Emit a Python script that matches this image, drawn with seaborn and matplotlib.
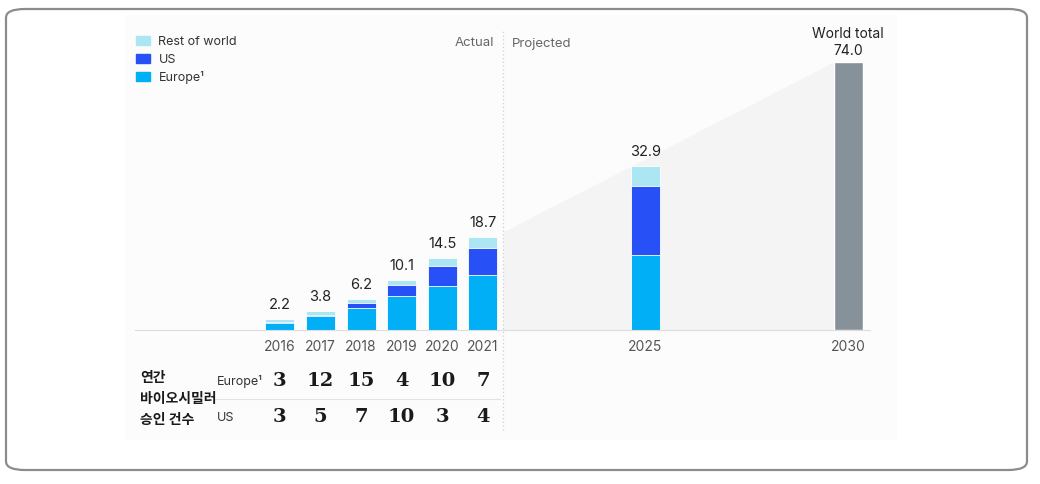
import pandas as pd
import seaborn as sns
import matplotlib.pyplot as plt
from matplotlib.patches import Patch, FancyBboxPatch, Rectangle
from matplotlib import transforms

# dados do gráfico (bilhões de USD, leitura aproximada)
years = [2016, 2017, 2018, 2019, 2020, 2021, 2025]
europe = [1.4, 2.8, 4.5, 6.8, 8.8, 11.1, 15.0]
us = [0.2, 0.3, 1.0, 2.2, 4.1, 5.4, 13.8]
rest_of_world = [0.6, 0.7, 0.7, 1.1, 1.6, 2.2, 4.1]
world_year = [2030]
world_total = [74.0]

# aprovações anuais de biossimilares
approval_years = [2016, 2017, 2018, 2019, 2020, 2021]
eu_approvals = [3, 12, 15, 4, 10, 7]
us_approvals = [3, 5, 7, 10, 3, 4]

tick_years = [2016, 2017, 2018, 2019, 2020, 2021, 2025, 2030]

df = pd.DataFrame({"year": years, "europe": europe, "us": us, "row": rest_of_world})
df["eu_us"] = df["europe"] + df["us"]
df["total"] = df["eu_us"] + df["row"]
df_world = pd.DataFrame({"year": world_year, "total": world_total})

c_row, c_us, c_eu, c_world = "#ade6f3", "#2850f7", "#00aff5", "#87919a"

sns.set_theme(style="white")
plt.rcParams["font.family"] = ["Inter", "Noto Sans CJK KR", "DejaVu Sans"]

fig = plt.figure(figsize=(10.4, 4.84), dpi=100)
W, H = 1040, 484

# moldura e fundo
fig.patches.append(Rectangle((125 / W, 1 - 440 / H), 772 / W, 425 / H, transform=fig.transFigure,
                             facecolor="#fcfcfc", edgecolor="none", zorder=-5))
fig.patches.append(FancyBboxPatch((6 / W, 1 - 470 / H), 1021 / W, 461 / H,
                                  boxstyle="round,pad=0,rounding_size=0.018", transform=fig.transFigure,
                                  facecolor="none", edgecolor="#8c8c8c", linewidth=1.6, zorder=5))

ax = fig.add_axes([135 / W, 1 - 330 / H, 735 / W, 300 / H])
ax2 = ax.twinx()
ax2.set_zorder(1)
ax.set_zorder(2)
ax.patch.set_visible(False)
ax2.patch.set_visible(False)

bw = 0.715
ylim1 = 60
ylim2 = 74 * 300 / 268

# área projetada + barra 2030 (escala própria)
k = ylim2 / ylim1
x0, x1 = 2021.5, world_year[0] - bw / 2
ax2.fill_between([x0, x1], [df["total"].iloc[5] * k * 1.05, world_total[0]], 0,
                 color="#f4f4f5", linewidth=0, zorder=0)
sns.barplot(data=df_world, x="year", y="total", color=c_world, native_scale=True,
            width=bw, saturation=1, ax=ax2, zorder=2)
ax2.bar_label(ax2.containers[0], labels=[f"World total\n{v:.1f}" for v in world_total],
              padding=3, fontsize=10, color="#222222", linespacing=1.25)

# barras empilhadas
sns.barplot(data=df, x="year", y="total", color=c_row, native_scale=True, width=bw,
            saturation=1, ax=ax, edgecolor="white", linewidth=0.6)
sns.barplot(data=df, x="year", y="eu_us", color=c_us, native_scale=True, width=bw,
            saturation=1, ax=ax, edgecolor="white", linewidth=0.6)
sns.barplot(data=df, x="year", y="europe", color=c_eu, native_scale=True, width=bw,
            saturation=1, ax=ax, edgecolor="white", linewidth=0.6)
ax.bar_label(ax.containers[0], fmt="%.1f", padding=5, fontsize=10.5, color="#222222")

ax.set_xlim(2012.43, 2030.54)
ax.set_ylim(0, ylim1)
ax2.set_ylim(0, ylim2)
ax.set_xticks(tick_years)
ax.set_xticklabels([str(y) for y in tick_years])
ax.tick_params(axis="x", length=0, pad=7, labelsize=10, labelcolor="#555555")
ax.set_yticks([])
ax2.set_yticks([])
ax.set_xlabel("")
ax.set_ylabel("")
ax2.set_ylabel("")
for a in (ax, ax2):
    for s in a.spines.values():
        s.set_visible(False)
ax.spines["bottom"].set_visible(True)
ax.spines["bottom"].set_color("#dddddd")
ax.spines["bottom"].set_linewidth(0.8)

# divisão real / projetado
blend = transforms.blended_transform_factory(ax.transData, ax.transAxes)
ax.axvline(2021.5, ymin=-0.333, ymax=1.0, clip_on=False, color="#cfcfcf",
           linestyle=(0, (1, 2)), linewidth=0.9)
ax.text(2021.28, 0.955, "Actual", transform=blend, ha="right", va="center", fontsize=9.5, color="#666666")
ax.text(2021.72, 0.955, "Projected", transform=blend, ha="left", va="center", fontsize=9.5, color="#666666")

# legenda
handles = [Patch(color=c_row), Patch(color=c_us), Patch(color=c_eu)]
ax.legend(handles, ["Rest of world", "US", "Europe¹"], loc="upper left",
          bbox_to_anchor=(136 / W, 1 - 36 / H), bbox_transform=fig.transFigure,
          frameon=False, handlelength=1.1, handleheight=0.75, labelspacing=0.45,
          borderaxespad=0, borderpad=0, handletextpad=0.7, fontsize=9, labelcolor="#333333")

# tabela de aprovações
for yr, n in zip(approval_years, eu_approvals):
    ax.text(yr, (330 - 381) / 300, str(n), transform=blend, ha="center", va="center",
            fontsize=14, fontweight="bold", family="DejaVu Serif", color="#1a1a1a")
for yr, n in zip(approval_years, us_approvals):
    ax.text(yr, (330 - 417) / 300, str(n), transform=blend, ha="center", va="center",
            fontsize=14, fontweight="bold", family="DejaVu Serif", color="#1a1a1a")
ax.plot([2014.4, 2021.42], [(330 - 399) / 300] * 2, transform=blend, clip_on=False,
        color="#e2e2e2", linewidth=0.8)
fig.text(217 / W, 1 - 382 / H, "Europe¹", ha="left", va="center", fontsize=9, color="#333333")
fig.text(217 / W, 1 - 418 / H, "US", ha="left", va="center", fontsize=9, color="#333333")
for yy, line in zip([378, 399, 420], ["연간", "바이오시밀러", "승인 건수"]):
    fig.text(140 / W, 1 - yy / H, line, ha="left", va="center", fontsize=10,
             fontweight="bold", color="#1a1a1a")

fig.savefig("out.png", dpi=100)
